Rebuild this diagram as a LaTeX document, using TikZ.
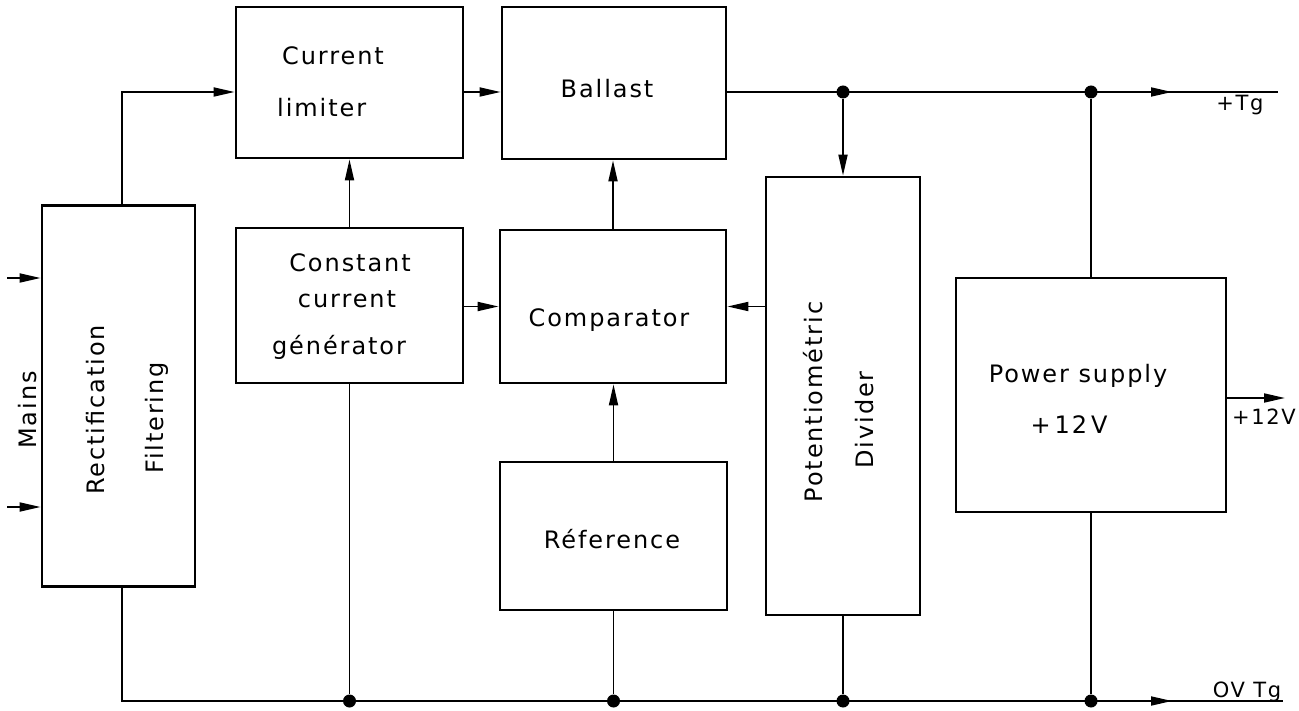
\documentclass[tikz,border=0pt]{standalone}
\usepackage{fontspec}
\setmainfont{DejaVu Sans}[LetterSpace=8]
\usetikzlibrary{arrows.meta}

\begin{document}
\begin{tikzpicture}[x=1pt,y=-1pt,
  blk/.style={draw, line width=2.8pt, inner sep=0pt},
  txt/.style={inner sep=0pt, font=\fontsize{24}{28}\selectfont},
  lbl/.style={inner sep=0pt, font=\fontsize{21}{24}\selectfont},
  wire/.style={line width=1.8pt},
  arr/.style={wire, -{Triangle[length=21pt,width=9pt]}},
  dot/.style={circle, fill, inner sep=0pt, minimum size=13pt}]

\useasboundingbox (0,0) rectangle (1299,711);

% ---------- blocks ----------
\node[blk, minimum width=153pt, minimum height=381pt] (rect) at (118.5,396) {};
\node[blk, minimum width=227pt, minimum height=151pt] (cl)   at (349.5,82.5) {};
\node[blk, minimum width=224pt, minimum height=152pt] (bal)  at (614,83) {};
\node[blk, minimum width=227pt, minimum height=155pt] (ccg)  at (349.5,305.5) {};
\node[blk, minimum width=226pt, minimum height=153pt] (comp) at (613,306.5) {};
\node[blk, minimum width=227pt, minimum height=148pt] (ref)  at (613.5,536) {};
\node[blk, minimum width=154pt, minimum height=438pt] (pot)  at (843,396) {};
\node[blk, minimum width=270pt, minimum height=234pt] (ps)   at (1091,395) {};

% ---------- block texts ----------
\node[txt, rotate=90, anchor=base] (rect-a) at (104,410) {Rectification};
\node[txt, rotate=90, anchor=base] (rect-b) at (163,418) {Filtering};
\node[txt, anchor=base] (cl-a) at (333,65) {Current};
\node[txt, anchor=base west] (cl-b) at (277,117) {limiter};
\node[txt, anchor=base] (bal-t) at (607,98) {Ballast};
\node[txt, anchor=base] (ccg-a) at (350,272) {Constant};
\node[txt, anchor=base] (ccg-b) at (347,308) {current};
\node[txt, anchor=base] (ccg-c) at (339,355) {générator};
\node[txt, anchor=base] (comp-t) at (609,327) {Comparator};
\node[txt, anchor=base] (ref-t) at (612,548) {Réference};
\node[txt, rotate=90, anchor=base] (pot-a) at (822,402) {Potentiométric};
\node[txt, rotate=90, anchor=base] (pot-b) at (873,420) {Divider};
\node[txt, anchor=base] (ps-a) at (1078,383) {Power supply};
\node[txt, anchor=base] (ps-b) at (1069,433) {+\,12\,V};

% ---------- rails ----------
\coordinate (top) at (0,92);
\coordinate (bot) at (0,701);
\coordinate (rx) at (122,0);
\coordinate (tarr) at (1172,92);
\coordinate (tend) at (1278,92);
\coordinate (barr) at (1172,701);
\coordinate (bend) at (1283,701);

\node[dot] (d1) at (pot.north |- top) {};
\node[dot] (d2) at (ps.north |- top) {};
\node[dot] (b1) at (ccg.south |- bot) {};
\node[dot] (b2) at (ref.south |- bot) {};
\node[dot] (b3) at (pot.south |- bot) {};
\node[dot] (b4) at (ps.south |- bot) {};

% +Tg rail
\draw[arr] (rect.north -| rx) -- (rx |- top) -- (cl.west |- top);
\draw[arr] (cl.east |- top) -- (bal.west |- top);
\draw[wire] (bal.east |- top) -- (tend);
\draw[arr] (d2) -- (tarr);
\draw[arr] (d1) -- (pot.north);
\draw[wire] (d2) -- (ps.north);

% 0V rail
\draw[wire] (rect.south -| rx) -- (rx |- bot) -- (bend);
\draw[arr] (b4) -- (barr);
\draw[wire] (ccg.south) -- (b1);
\draw[wire] (ref.south) -- (b2);
\draw[wire] (pot.south) -- (b3);
\draw[wire] (ps.south) -- (b4);

% signal paths
\draw[arr] (ccg.north) -- (cl.south -| ccg.north);
\draw[arr] (comp.north) -- (bal.south -| comp.north);
\draw[arr] (ref.north) -- (comp.south -| ref.north);
\draw[arr] (ccg.east |- comp.west) -- (comp.west);
\draw[arr] (pot.west |- comp.west) -- (comp.east);

% mains inputs
\coordinate (m1) at (7,278);
\coordinate (m2) at (7,507);
\draw[arr] (m1) -- (m1 -| rect.west);
\draw[arr] (m2) -- (m2 -| rect.west);
\node[txt, rotate=90, anchor=base] (mains) at (36,410) {Mains};

% +12 V output
\coordinate (v12) at (1285,398);
\draw[arr] (ps.east |- v12) -- (v12);

% rail labels
\node[lbl, anchor=base] (l12) at (1264,424) {+12V};
\node[lbl, anchor=base] (ltg) at (1240,111) {+Tg};
\node[lbl, anchor=base] (l0v) at (1247,697) {OV Tg};
\end{tikzpicture}
\end{document}
